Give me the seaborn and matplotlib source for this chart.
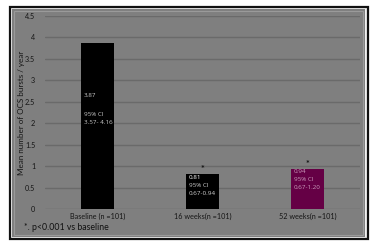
import matplotlib
matplotlib.use("Agg")
import matplotlib.pyplot as plt
from matplotlib.patches import Rectangle
import seaborn as sns
import pandas as pd

categories = ["Baseline (n =101)", "16 weeks(n =101)", "52 weeks(n =101)"]
means = [3.87, 0.81, 0.94]
ci_text = ["3.57- 4.16", "0.67-0.94", "0.67-1.20"]
significant = [False, True, True]
bar_colors = ["#000000", "#000000", "#650045"]
text_colors = [("#c8c8c8", "#c8c8c8", "#c8c8c8"),
               ("#ffffff", "#cfcfcf", "#cfcfcf"),
               ("#c99bbb", "#c99bbb", "#c99bbb")]

df = pd.DataFrame({"cat": categories, "mean": means})

sns.set_theme(style="white")
plt.rcParams["font.family"] = ["Lato", "DejaVu Sans"]

W, H = 375, 242
fig = plt.figure(figsize=(W / 100, H / 100), dpi=100)
fig.patch.set_facecolor("white")

# outer frame and gray panel
fig.patches.append(Rectangle((9.5 / W, 1 - 239 / H), 358 / W, 232 / H, transform=fig.transFigure,
                             facecolor="#f0f0f0", edgecolor="#111111", lw=1.6, zorder=-10))
fig.patches.append(Rectangle((12 / W, 1 - 237 / H), 353 / W, 228 / H, transform=fig.transFigure,
                             facecolor="#7f7f7f", edgecolor="none", zorder=-9))
fig.patches.append(Rectangle((14 / W, 1 - 235 / H), 349 / W, 224 / H, transform=fig.transFigure,
                             facecolor="none", edgecolor="#9a9a9a", lw=0.8, zorder=-8))

ax = fig.add_axes([45 / W, 1 - 209 / H, 315 / W, 193 / H])
ax.set_zorder(5)
ax.set_facecolor("none")

sns.barplot(data=df, x="cat", y="mean", hue="cat", palette=bar_colors, legend=False,
            width=0.31, saturation=1, ax=ax, zorder=3, edgecolor="none", linewidth=0)

ax.set_ylim(0, 4.5)
ax.set_xlim(-0.5, 2.5)
ax.set_yticks([0, 0.5, 1, 1.5, 2, 2.5, 3, 3.5, 4, 4.5])
ax.set_yticklabels(["0", "0.5", "1", "1.5", "2", "2.5", "3", "3.5", "4", "4.5"])
ax.set_axisbelow(True)
ax.grid(axis="y", color="#6a6a6a", lw=1.0)
ax.grid(axis="x", visible=False)
for s in ax.spines.values():
    s.set_visible(False)
ax.tick_params(axis="y", length=0, pad=7, labelsize=5.2, labelcolor="#151515")
ax.tick_params(axis="x", length=0, pad=3, labelsize=5.2, labelcolor="#151515")
ax.set_xlabel("")
ax.set_ylabel("Mean number of OCS bursts / year", fontsize=5.8, color="#151515")
ax.yaxis.set_label_coords(-20 / 315, 0.5)

# annotations inside bars
for i, patch in enumerate(ax.patches[:3]):
    x0 = patch.get_x()
    h = patch.get_height()
    if i == 0:
        offs = [-52, -71, -79]
    else:
        offs = [-3, -11, -19]
    lines = [f"{means[i]:.2f}", "95% CI", ci_text[i]]
    for j, (t, o) in enumerate(zip(lines, offs)):
        ax.annotate(t, xy=(x0, h), xytext=(2, o * 0.72), textcoords="offset points",
                    fontsize=4.5, color=text_colors[i][j], va="center", ha="left", zorder=5,
                    family=["Open Sans", "DejaVu Sans"])
    if significant[i]:
        ax.annotate("*", xy=(patch.get_x() + patch.get_width() / 2, h), xytext=(0, 0),
                    textcoords="offset points", ha="center", va="bottom",
                    fontsize=6.5, color="#111111", zorder=5, fontweight="bold")

fig.text(24 / W, 1 - 228 / H, "*. p<0.001 vs baseline", fontsize=6.3, color="#111111",
         ha="left", va="center")

fig.savefig("out.png", dpi=100)
